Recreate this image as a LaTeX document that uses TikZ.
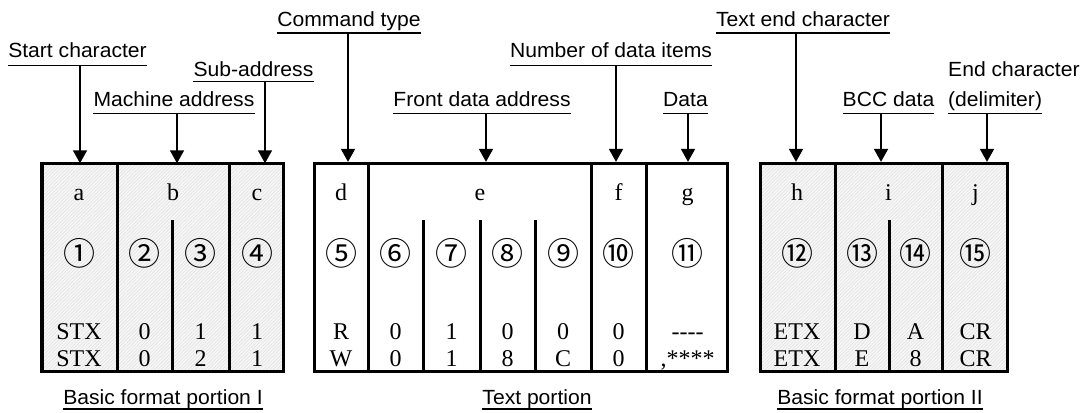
\documentclass[tikz,border=0pt]{standalone}
\usepackage{fontspec}
\setmainfont{Liberation Serif}
\newfontfamily\labfont[FakeStretch=1.03]{Liberation Sans}
\newfontfamily\circfont{Noto Sans CJK JP}
\usetikzlibrary{arrows.meta,patterns.meta}
\newcommand\hy{\hbox{-}}
\begin{document}
\begin{tikzpicture}[x=1pt,y=-1pt,
  lab/.style={font=\labfont\fontsize{20.5}{23}\selectfont, anchor=base, inner sep=0pt, align=left},
  ul/.style={line width=1.6pt},
  arr/.style={line width=1.8pt, -{Triangle[length=13pt,width=14pt]}},
  frame/.style={draw, line width=3.3pt, inner sep=0pt, minimum height=208pt},
  shaded/.style={preaction={fill=black!3}, pattern={Lines[angle=45,distance=2.4pt,line width=0.5pt]}, pattern color=black!13},
  dv/.style={line width=3pt},
  cell/.style={font=\fontsize{24}{26}\selectfont, anchor=base, inner sep=0pt},
  circ/.style={font=\circfont\fontsize{32}{34}\selectfont, inner sep=0pt}]
\useasboundingbox (0,0) rectangle (1086,412);

% boxes
\node[frame, shaded, minimum width=241.5pt] (boxI) at (162.75,267.5) {};
\node[frame, minimum width=413pt] (boxII) at (521,267.5) {};
\node[frame, shaded, minimum width=247pt] (boxIII) at (884,267.5) {};

% full dividers
\foreach \x in {117,229,368,591,646,835,942}
  \draw[dv] (\x,163.5) -- (\x,371.5);
% partial dividers
\foreach \x in {172,423,480,535,889}
  \draw[dv] (\x,220) -- (\x,371.5);

% top letters
\foreach \t/\x in {a/79,b/173,c/257,d/341,e/480,f/618.5,g/687.5,h/797,i/888.5,j/975.5}
  \node[cell] (L\t) at (\x,200) {\t};

% circled numbers
\foreach \t/\x [count=\k] in {①/79,②/144.5,③/200.5,④/257,⑤/341,⑥/395.5,⑦/451.5,⑧/507.5,⑨/563,⑩/618.5,⑪/687.5,⑫/797,⑬/862,⑭/915.5,⑮/975.5}
  \node[circ] (C\k) at (\x,253) {\t};

% data rows
\foreach \a/\b/\x [count=\k] in {STX/STX/79,0/0/144.5,1/2/200.5,1/1/257,R/W/341,0/0/395.5,1/1/451.5,0/8/507.5,0/C/563,0/0/618.5,{\hy\hy\hy\hy}/{,****}/687.5,ETX/ETX/797,D/E/862,A/8/915.5,CR/CR/975.5}{
  \node[cell] (R\k) at (\x,339) {\a};
  \node[cell] (W\k) at (\x,366) {\b};
}

% labels with underlines
\node[lab] (start) at (77.5,57) {Start character};
\draw[ul] ([yshift=-8.5pt]start.base west) -- ([yshift=-8.5pt]start.base east);
\node[lab] (mach) at (174,106.5) {Machine address};
\draw[ul] ([yshift=-7pt]mach.base west) -- ([yshift=-7pt]mach.base east);
\node[lab] (sub) at (253.5,76) {Sub-address};
\draw[ul] ([yshift=-5.5pt]sub.base west) -- ([yshift=-5.5pt]sub.base east);
\node[lab] (cmd) at (349,26.7) {Command type};
\draw[ul] ([yshift=-6.3pt]cmd.base west) -- ([yshift=-6.3pt]cmd.base east);
\node[lab] (front) at (482,106.5) {Front data address};
\draw[ul] ([yshift=-7pt]front.base west) -- ([yshift=-7pt]front.base east);
\node[lab] (num) at (611,57) {Number of data items};
\draw[ul] ([yshift=-8.5pt]num.base west) -- ([yshift=-8.5pt]num.base east);
\node[lab] (data) at (685.5,106.5) {Data};
\draw[ul] ([yshift=-7pt]data.base west) -- ([yshift=-7pt]data.base east);
\node[lab] (tend) at (803,26.7) {Text end character};
\draw[ul] ([yshift=-6.3pt]tend.base west) -- ([yshift=-6.3pt]tend.base east);
\node[lab] (bcc) at (888.5,106.5) {BCC data};
\draw[ul] ([yshift=-7pt]bcc.base west) -- ([yshift=-7pt]bcc.base east);
\node[lab, anchor=base west] (endc) at (948,76) {End character};
\node[lab, anchor=base west] (delim) at (948,106.5) {(delimiter)};
\draw[ul] ([yshift=-7pt]delim.base west) -- ([yshift=-7pt]delim.base east);

% arrow start coordinates
\coordinate (s1) at (80,65.5);
\coordinate (s2) at (177,113.5);
\coordinate (s3) at (265,81.5);
\coordinate (s4) at (348,33);
\coordinate (s5) at (486,113.5);
\coordinate (s6) at (616,65.5);
\coordinate (s7) at (688,113.5);
\coordinate (s8) at (796,33);
\coordinate (s9) at (881,113.5);
\coordinate (s10) at (987,113.5);

\draw[arr] (s1) -- (s1 |- boxI.north);
\draw[arr] (s2) -- (s2 |- boxI.north);
\draw[arr] (s3) -- (s3 |- boxI.north);
\draw[arr] (s4) -- (s4 |- boxII.north);
\draw[arr] (s5) -- (s5 |- boxII.north);
\draw[arr] (s6) -- (s6 |- boxII.north);
\draw[arr] (s7) -- (s7 |- boxII.north);
\draw[arr] (s8) -- (s8 |- boxIII.north);
\draw[arr] (s9) -- (s9 |- boxIII.north);
\draw[arr] (s10) -- (s10 |- boxIII.north);

% bottom labels
\node[lab] (p1) at (163,404) {Basic format portion I};
\draw[ul, line width=1.4pt] ([yshift=-5pt]p1.base west) -- ([yshift=-5pt]p1.base east);
\node[lab] (p2) at (537,404) {Text portion};
\draw[ul, line width=1.4pt] ([yshift=-5pt]p2.base west) -- ([yshift=-5pt]p2.base east);
\node[lab] (p3) at (880,404) {Basic format portion II};
\draw[ul, line width=1.4pt] ([yshift=-5pt]p3.base west) -- ([yshift=-5pt]p3.base east);
\end{tikzpicture}
\end{document}
